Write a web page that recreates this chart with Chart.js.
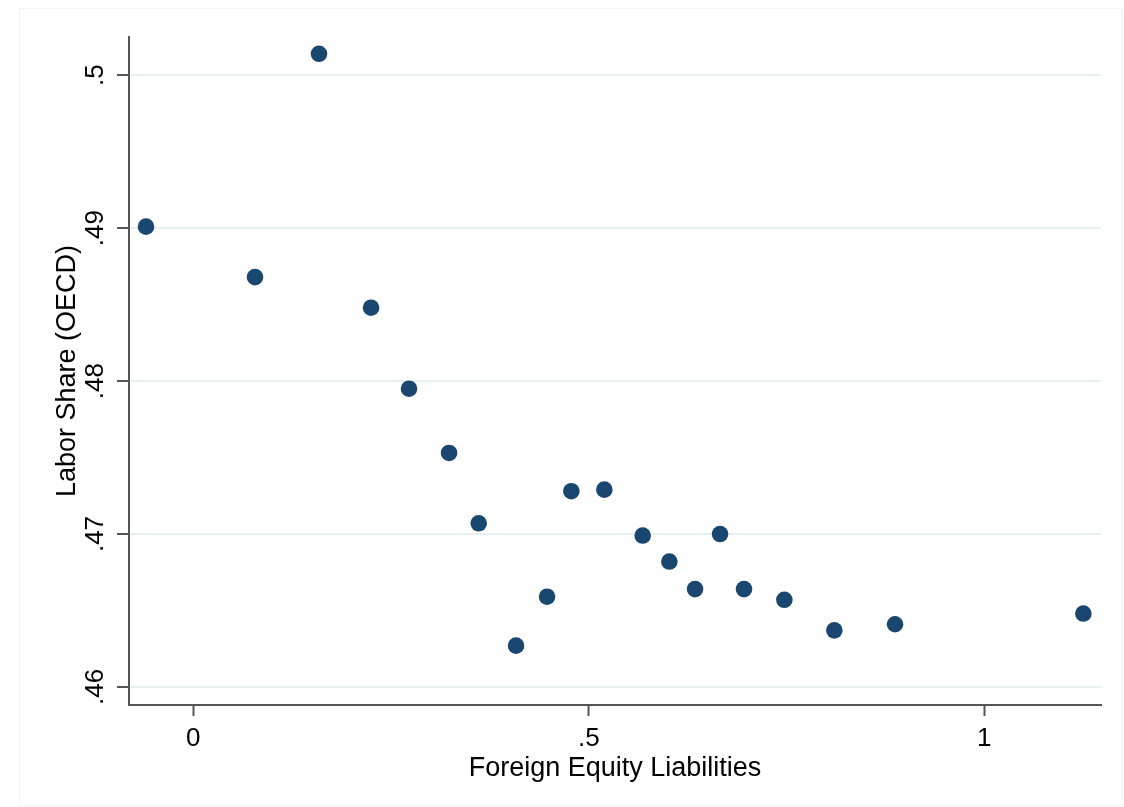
<!DOCTYPE html>
<html>
<head>
<meta charset="utf-8">
<script src="https://cdn.jsdelivr.net/npm/chart.js@4"></script>
<style>
  html, body { margin: 0; padding: 0; background: #fff; }
  #wrap { width: 1124px; height: 807px; }
</style>
</head>
<body>
<div id="wrap"><canvas id="scatter" width="1124" height="807"></canvas></div>
<script>
// values
const equityLiab = [-0.0598, 0.0780, 0.1589, 0.2247, 0.2727, 0.3233, 0.3608, 0.4080, 0.4472, 0.4779,
                    0.5196, 0.5681, 0.6018, 0.6343, 0.6659, 0.6962, 0.7472, 0.8104, 0.8871, 1.1252];
const laborShare = [0.4901, 0.4868, 0.5014, 0.4848, 0.4795, 0.4753, 0.4707, 0.4627, 0.4659, 0.4728,
                    0.4729, 0.4699, 0.4682, 0.4664, 0.4700, 0.4664, 0.4657, 0.4637, 0.4641, 0.4648];
const xTicks = [0, 0.5, 1];
const xTickLabels = ['0', '.5', '1'];
const yTicks = [0.46, 0.47, 0.48, 0.49, 0.5];
const yTickLabels = ['.46', '.47', '.48', '.49', '.5'];

const fontFam = "'Liberation Sans', Arial, Helvetica, sans-serif";

// faint outer frame like the Stata graph region
const frame = {
    id: 'frame',
    beforeDraw(chart) {
        const ctx = chart.ctx;
        ctx.save();
        ctx.fillStyle = '#fff';
        ctx.fillRect(0, 0, chart.width, chart.height);
        ctx.strokeStyle = '#f3f3f3';
        ctx.lineWidth = 1;
        ctx.strokeRect(19.5, 8.5, chart.width - 21, chart.height - 10);
        ctx.restore();
    }
};

new Chart(document.getElementById('scatter'), {
    type: 'scatter',
    data: {
        datasets: [{
            label: 'Labor Share',
            data: equityLiab.map((x, i) => ({ x: x, y: laborShare[i] })),
            backgroundColor: '#1a476f',
            borderColor: '#1a476f',
            pointRadius: 8.3,
            pointHoverRadius: 8.3,
            borderWidth: 0
        }]
    },
    options: {
        responsive: false,
        animation: false,
        layout: { padding: { top: 37, right: 23, left: 0, bottom: 0 } },
        plugins: {
            legend: { display: false },
            tooltip: { enabled: false }
        },
        scales: {
            x: {
                type: 'linear',
                min: -0.0813,
                max: 1.1475,
                afterBuildTicks: s => { s.ticks = xTicks.map(v => ({ value: v })); },
                afterFit: s => { s.height = 102; },
                ticks: {
                    callback: (v, i) => xTickLabels[i],
                    color: '#000',
                    font: { family: fontFam, size: 26 },
                    padding: 7,
                    maxRotation: 0
                },
                grid: {
                    drawOnChartArea: false,
                    tickLength: 11,
                    tickColor: '#555',
                    tickWidth: 2
                },
                border: { color: '#555', width: 2 },
                title: {
                    display: true,
                    text: 'Foreign Equity Liabilities',
                    color: '#000',
                    font: { family: fontFam, size: 27 },
                    padding: { top: 0, bottom: 22 }
                }
            },
            y: {
                type: 'linear',
                min: 0.45882,
                max: 0.5025,
                afterBuildTicks: s => { s.ticks = yTicks.map(v => ({ value: v })); },
                afterFit: s => { s.width = 129; },
                ticks: {
                    callback: (v, i) => yTickLabels[i],
                    color: '#000',
                    font: { family: fontFam, size: 26 },
                    minRotation: 90,
                    maxRotation: 90,
                    crossAlign: 'center',
                    padding: 3
                },
                grid: {
                    color: '#e6eff2',
                    lineWidth: 2,
                    tickLength: 12,
                    tickColor: '#555',
                    tickWidth: 2
                },
                border: { color: '#555', width: 2 },
                title: {
                    display: true,
                    text: 'Labor Share (OECD)',
                    color: '#000',
                    font: { family: fontFam, size: 27 },
                    padding: { top: 51, bottom: 0 }
                }
            }
        }
    },
    plugins: [frame]
});
</script>
</body>
</html>
